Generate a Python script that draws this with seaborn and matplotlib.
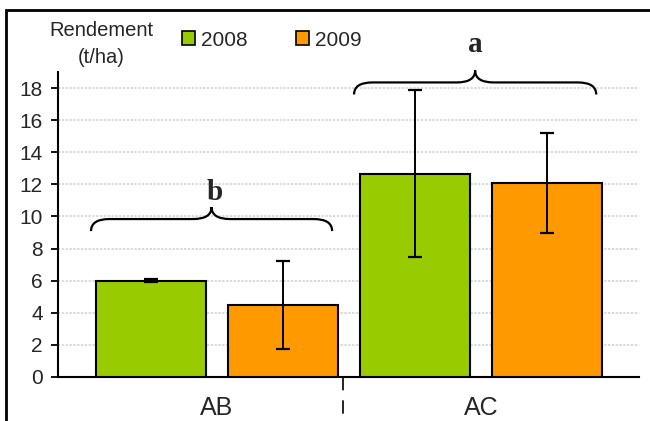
import matplotlib
matplotlib.use("Agg")
import matplotlib.pyplot as plt
from matplotlib.patches import Patch, Rectangle, PathPatch
from matplotlib.path import Path
import seaborn as sns
import pandas as pd

# Yield data (t/ha) per rotation and year, with error half-widths
sites = ["AB", "AB", "AC", "AC"]
years = ["2008", "2009", "2008", "2009"]
rendement = [6.0, 4.5, 12.65, 12.1]
erreur = [0.1, 2.73, 5.2, 3.1]
y_ticks = [0, 2, 4, 6, 8, 10, 12, 14, 16, 18]
colors = {"2008": "#99CC00", "2009": "#FF9900"}

df = pd.DataFrame({"site": sites, "annee": years, "rendement": rendement, "err": erreur})

sns.set_style("white")
plt.rcParams["font.family"] = ["Liberation Sans", "DejaVu Sans"]

fig = plt.figure(figsize=(6.5, 4.21), dpi=100)
ax = fig.add_axes([58 / 650, 44 / 421, 581 / 650, 305 / 421])

sns.barplot(data=df, x="site", y="rendement", hue="annee", palette=colors,
            saturation=1, width=1.0, gap=0.167, edgecolor="black", linewidth=1.5,
            errorbar=None, legend=False, ax=ax, zorder=3)

# error bars placed on the bar centres computed by seaborn
bars = sorted(ax.patches, key=lambda p: p.get_x())
for p, (_, row) in zip(bars, df.iterrows()):
    xc = p.get_x() + p.get_width() / 2
    ax.errorbar(xc, row["rendement"], yerr=row["err"], color="black",
                elinewidth=1.4, capsize=4.8, capthick=1.6, zorder=4)

ax.set_xlim(-0.602, 1.598)
ax.set_ylim(0, 19)
ax.set_yticks(y_ticks)
ax.yaxis.grid(True, color="#cfcfcf", linestyle=(0, (1.5, 1)), linewidth=1.1)
ax.set_axisbelow(True)
for s in ["top", "right"]:
    ax.spines[s].set_visible(False)
for s in ["left", "bottom"]:
    ax.spines[s].set_color("black")
    ax.spines[s].set_linewidth(1.5)
ax.tick_params(axis="y", which="major", left=True, length=5, width=1.3,
               color="black", labelsize=15, pad=6, direction="out")
ax.tick_params(axis="x", length=0, labelsize=18, pad=14)
ax.set_xlabel("")
ax.set_ylabel("")

# dashed separator between the two categories
ax.plot([0.479, 0.479], [0, -0.15], transform=ax.get_xaxis_transform(),
        color="black", lw=1.2, linestyle=(0, (8, 6)), clip_on=False)


def brace(ax, x0, x1, y_end, y_flat, y_tip, rx):
    xm = (x0 + x1) / 2
    verts = [(x0, y_end), (x0, y_flat), (x0 + rx, y_flat),
             (xm - rx, y_flat), (xm, y_flat), (xm, y_tip),
             (xm, y_flat), (xm + rx, y_flat),
             (x1 - rx, y_flat), (x1, y_flat), (x1, y_end)]
    codes = [Path.MOVETO, Path.CURVE3, Path.CURVE3,
             Path.LINETO, Path.CURVE3, Path.CURVE3,
             Path.CURVE3, Path.CURVE3,
             Path.LINETO, Path.CURVE3, Path.CURVE3]
    ax.add_patch(PathPatch(Path(verts, codes), fill=False, lw=1.6,
                           edgecolor="black", clip_on=False, zorder=5))


brace(ax, -0.477, 0.436, 9.09, 9.84, 10.59, 0.07)
brace(ax, 0.519, 1.436, 17.6, 18.35, 19.1, 0.07)
ax.text(-0.008, 11.02, "b", ha="center", va="baseline", fontsize=21,
        fontweight="bold", family="Liberation Serif")
ax.text(0.977, 20.24, "a", ha="center", va="baseline", fontsize=21,
        fontweight="bold", family="Liberation Serif", clip_on=False)

# axis title and legend in the top band
fig.text(101 / 650, 1 - 44 / 421, "Rendement\n(t/ha)", ha="center", va="center",
         fontsize=14.5, linespacing=1.5)
handles = [Patch(facecolor=colors[y], edgecolor="black", linewidth=1.2, label=y)
           for y in ["2008", "2009"]]
fig.legend(handles=handles, loc="center left", ncol=2, frameon=False,
           bbox_to_anchor=(182 / 650, 1 - 40 / 421), fontsize=15,
           handlelength=0.62, handleheight=0.62, handletextpad=0.3,
           columnspacing=2.3, borderpad=0, borderaxespad=0)

# outer frame
fig.add_artist(Rectangle((5.5 / 650, -0.05), 1.0, 1.05 - 10 / 421,
                         transform=fig.transFigure, fill=False,
                         edgecolor="black", lw=2))

fig.savefig("out.png", dpi=100)
